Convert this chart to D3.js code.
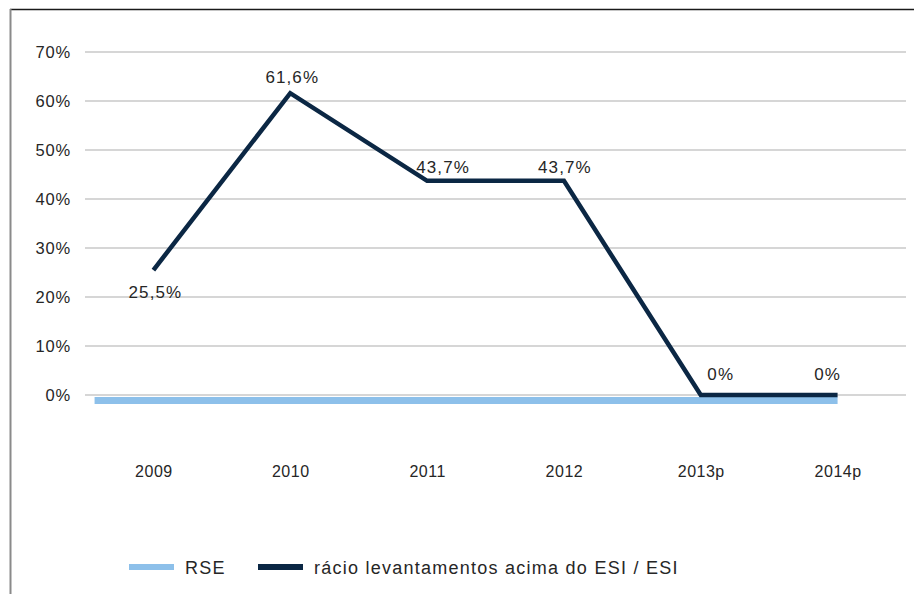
<!DOCTYPE html>
<html>
<head>
<meta charset="utf-8">
<script src="https://cdn.jsdelivr.net/npm/d3@7"></script>
<style>
  body { margin: 0; background: #fff; }
  text { font-family: "Liberation Sans", Arial, sans-serif; fill: #262626; }
</style>
</head>
<body>
<div id="chart"></div>
<script>
var categories = ["2009", "2010", "2011", "2012", "2013p", "2014p"];
var ratioValues = [25.5, 61.6, 43.7, 43.7, 0, 0];
var ratioLabels = ["25,5%", "61,6%", "43,7%", "43,7%", "0%", "0%"];
var rseValues = [-1.1, -1.1, -1.1, -1.1, -1.1, -1.1];
var yTicks = [0, 10, 20, 30, 40, 50, 60, 70];
var seriesNames = ["RSE", "rácio levantamentos acima do ESI / ESI"];

var width = 914, height = 594;
var margin = { top: 52, left: 85, right: 8, bottom: 199 };

var svg = d3.select("#chart").append("svg")
  .attr("width", width)
  .attr("height", height);

// frame
svg.append("line").attr("x1", 10).attr("x2", width).attr("y1", 9.5).attr("y2", 9.5)
  .attr("stroke", "#1a1a1a").attr("stroke-width", 1.5);
svg.append("line").attr("x1", 10.5).attr("x2", 10.5).attr("y1", 9).attr("y2", height)
  .attr("stroke", "#8a8a8a").attr("stroke-width", 2);

var x = d3.scalePoint()
  .domain(categories)
  .range([margin.left, width - margin.right])
  .padding(0.5);

var y = d3.scaleLinear()
  .domain([0, 70])
  .range([height - margin.bottom, margin.top]);

var step = x.step();

// gridlines
svg.append("g").selectAll("line")
  .data(yTicks)
  .enter().append("line")
  .attr("x1", margin.left).attr("x2", width - margin.right)
  .attr("y1", function(d) { return y(d); })
  .attr("y2", function(d) { return y(d); })
  .attr("stroke", "#c8c8c8").attr("stroke-width", 1.5);

// y axis labels
var yAxis = svg.append("g")
  .attr("transform", "translate(" + (margin.left - 14) + ",0)")
  .call(d3.axisLeft(y).tickValues(yTicks).tickSize(0).tickPadding(0)
    .tickFormat(function(d) { return d + "%"; }));
yAxis.select(".domain").remove();
yAxis.selectAll("text").style("font-size", "16.5px").style("letter-spacing", "0.8px")
  .attr("fill", "#262626").attr("font-family", "Liberation Sans, Arial, sans-serif");

// x axis labels
var xAxis = svg.append("g")
  .attr("transform", "translate(0," + (y(0) + 71) + ")")
  .call(d3.axisBottom(x).tickSize(0).tickPadding(0));
xAxis.select(".domain").remove();
xAxis.selectAll("text").style("font-size", "16px").style("letter-spacing", "0.5px")
  .attr("fill", "#262626").attr("font-family", "Liberation Sans, Arial, sans-serif");

// RSE line (starts a bit left of first category)
var rsePts = rseValues.map(function(v, i) { return [x(categories[i]), y(v)]; });
rsePts.unshift([x(categories[0]) - step * 0.43, y(rseValues[0])]);
svg.append("path")
  .attr("d", d3.line()(rsePts))
  .attr("fill", "none")
  .attr("stroke", "#8dc0ea")
  .attr("stroke-width", 7);

// ratio line
var line = d3.line()
  .x(function(d, i) { return x(categories[i]); })
  .y(function(d) { return y(d); });

svg.append("path")
  .datum(ratioValues)
  .attr("d", line)
  .attr("fill", "none")
  .attr("stroke", "#0b2744")
  .attr("stroke-width", 4.5)
  .attr("stroke-linejoin", "miter");

// data labels
var labelDx = [2, 2, 16, 1, 20, -10];
var labelDy = [28, -10, -8, -8, -15, -15];
svg.append("g").selectAll("text")
  .data(ratioValues)
  .enter().append("text")
  .attr("x", function(d, i) { return x(categories[i]) + labelDx[i]; })
  .attr("y", function(d, i) { return y(d) + labelDy[i]; })
  .attr("text-anchor", "middle")
  .style("font-size", "17px")
  .style("letter-spacing", "1.1px")
  .text(function(d, i) { return ratioLabels[i]; });

// legend
var legend = svg.append("g").attr("transform", "translate(129,567)");
var legColors = ["#8dc0ea", "#0b2744"];
var legX = [0, 129];
seriesNames.forEach(function(name, i) {
  legend.append("line")
    .attr("x1", legX[i]).attr("x2", legX[i] + 45)
    .attr("y1", 0).attr("y2", 0)
    .attr("stroke", legColors[i]).attr("stroke-width", 6);
  legend.append("text")
    .attr("x", legX[i] + 56).attr("y", 7)
    .style("font-size", "18px")
    .style("letter-spacing", "1.25px")
    .text(name);
});
</script>
</body>
</html>
